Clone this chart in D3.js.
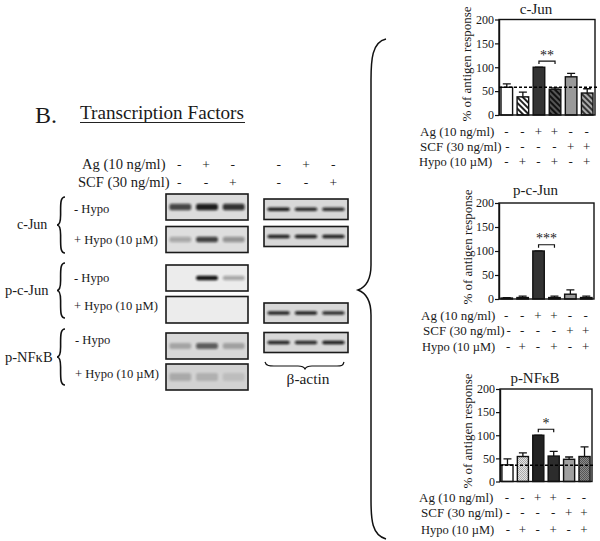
<!DOCTYPE html>
<html><head><meta charset="utf-8">
<script src="https://cdn.jsdelivr.net/npm/d3@7/dist/d3.min.js"></script>
<style>html,body{margin:0;background:#fff}svg{display:block}text{font-family:"Liberation Serif",serif;fill:#1a1a1a}</style>
</head><body><svg id="c" width="600" height="541"></svg>
<script>
// ---------- data ----------
const panelTitles = ["c-Jun", "p-c-Jun", "p-NF\u03BAB"];
const cJunValues = [58, 38, 100, 54, 80, 46];
const cJunErrors = [7, 10, 0, 3, 7, 9];
const pcJunValues = [2, 3, 100, 3, 10, 3];
const pcJunErrors = [1, 3, 0, 3, 9, 3];
const pNFkBValues = [36, 54, 100, 55, 48, 54];
const pNFkBErrors = [13, 8, 0, 10, 5, 21];
const baselines = [58, null, 35];
const sigLabels = ["**", "***", "*"];
const yTicks = [0, 50, 100, 150, 200];
const treatmentNames = ["Ag (10 ng/ml)", "SCF (30 ng/ml)", "Hypo (10 \u00B5M)"];
const agSigns = ["-", "-", "+", "+", "-", "-"];
const scfSigns = ["-", "-", "-", "-", "+", "+"];
const hypoSigns = ["-", "+", "-", "+", "-", "+"];
const blotAg = ["-", "+", "-"];
const blotScf = ["-", "-", "+"];
const lanes = [0, 1, 2];
const cJunMinus = [0.72, 0.92, 0.82];
const cJunPlus = [0.25, 0.75, 0.35];
const pcJunMinus = [0, 0.98, 0.3];
const pcJunPlus = [0, 0, 0];
const pNFkBMinus = [0.25, 0.6, 0.27];
const pNFkBPlus = [0.2, 0.17, 0.1];
const actin1 = [0.95, 0.88, 0.85];
const actin2 = [0.92, 0.92, 0.92];
const actin3 = [0.9, 0.92, 0.85];
const actin4 = [0.9, 0.88, 0.95];

// ---------- layout ----------
const svg = d3.select("#c");
const defs = svg.append("defs");
defs.append("filter").attr("id", "soft").attr("x", "-20%").attr("y", "-100%").attr("width", "140%").attr("height", "300%")
  .append("feGaussianBlur").attr("stdDeviation", "1.1 0.9");

function hatch(id, bg, fg, angle, w) {
  const p = defs.append("pattern").attr("id", id).attr("patternUnits", "userSpaceOnUse")
    .attr("width", 4).attr("height", 4).attr("patternTransform", `rotate(${angle})`);
  p.append("rect").attr("width", 4).attr("height", 4).attr("fill", bg);
  p.append("rect").attr("width", w).attr("height", 4).attr("fill", fg);
}
function stipple(id, bg, fg) {
  const p = defs.append("pattern").attr("id", id).attr("patternUnits", "userSpaceOnUse").attr("width", 2).attr("height", 2);
  p.append("rect").attr("width", 2).attr("height", 2).attr("fill", bg);
  p.append("rect").attr("width", 1).attr("height", 1).attr("fill", fg);
  p.append("rect").attr("x", 1).attr("y", 1).attr("width", 1).attr("height", 1).attr("fill", fg);
}
hatch("hw", "#fff", "#222", -45, 2);
hatch("hd", "#555", "#111", -45, 2);
hatch("hg", "#aaa", "#333", -45, 2);
stipple("dots", "#e4e4e4", "#aaa");
stipple("dotg", "#8a8a8a", "#555");

const fills = [
  ["#fff", "url(#hw)", "#333", "url(#hd)", "#999", "url(#hg)"],
  ["#fff", "#444", "#333", "#444", "#999", "#555"],
  ["#fff", "url(#dots)", "#222", "#2c2c2c", "#a0a0a0", "url(#dotg)"]
];

const panels = [
  {x0: 499, x1: 595, yTop: 19.5, yBot: 115, vals: cJunValues, errs: cJunErrors, titleX: 536, titleY: 13.5, ylabX: 470.5, ylabY: 64,
   rows: [132, 147, 162], labX: [420, 420, 419], signShift: [0, 1, 0]},
  {x0: 499, x1: 594, yTop: 203, yBot: 299, vals: pcJunValues, errs: pcJunErrors, titleX: 535.5, titleY: 195, ylabX: 471.5, ylabY: 247,
   rows: [316, 331, 347], labX: [421, 423, 422], signShift: [0, 2.5, 2]},
  {x0: 500, x1: 592, yTop: 389, yBot: 481.5, vals: pNFkBValues, errs: pNFkBErrors, titleX: 535, titleY: 383, ylabX: 472, ylabY: 431,
   rows: [498, 513, 530], labX: [419, 421, 421], signShift: [0, 1, 1]}
];
const signRows = [agSigns, scfSigns, hypoSigns];
const rowFont = [13, 13, 12.5];

panels.forEach((p, i) => {
  const g = svg.append("g");
  const x = d3.scaleBand().domain(d3.range(6)).range([p.x0, p.x1]).paddingInner(0.28).paddingOuter(0.125);
  const y = d3.scaleLinear().domain([0, 200]).range([p.yBot, p.yTop]);
  const c = i2 => x(i2) + x.bandwidth() / 2;

  // error bars
  g.selectAll(".err").data(p.vals).join("path")
    .attr("d", (v, k) => {
      const t = y(v + p.errs[k]);
      return `M${c(k)},${y(v)}V${t}M${c(k) - 4},${t}H${c(k) + 4}`;
    }).attr("stroke", "#111").attr("stroke-width", 1.3).attr("fill", "none");
  // bars
  g.selectAll(".bar").data(p.vals).join("rect")
    .attr("x", (v, k) => x(k)).attr("width", x.bandwidth())
    .attr("y", v => y(v)).attr("height", v => y(0) - y(v))
    .attr("fill", (v, k) => fills[i][k]).attr("stroke", "#111").attr("stroke-width", 1.4);
  // frame
  g.append("rect").attr("x", p.x0).attr("y", p.yTop).attr("width", p.x1 - p.x0).attr("height", p.yBot - p.yTop)
    .attr("fill", "none").attr("stroke", "#111").attr("stroke-width", 1.4);
  // axis
  const ax = g.append("g").attr("transform", `translate(${p.x0},0)`)
    .call(d3.axisLeft(y).tickValues(yTicks).tickSize(4).tickPadding(1).tickSizeOuter(0));
  ax.select(".domain").attr("stroke", "#111").attr("stroke-width", 1.4);
  ax.selectAll("line").attr("stroke", "#111").attr("stroke-width", 1.2);
  ax.selectAll("text").style("font-family", '"Liberation Serif",serif').style("font-size", "12px").attr("fill", "#1a1a1a");
  // baseline
  if (baselines[i] !== null) {
    g.append("line").attr("x1", p.x0).attr("x2", p.x1 + 2).attr("y1", y(baselines[i])).attr("y2", y(baselines[i]))
      .attr("stroke", "#000").attr("stroke-width", 1.4).attr("stroke-dasharray", "3,2");
  }
  // significance
  const by = y(113);
  g.append("path").attr("d", `M${c(2)},${by + 3}V${by}H${c(3)}V${by + 3}`).attr("fill", "none").attr("stroke", "#111").attr("stroke-width", 1.2);
  g.append("text").attr("x", (c(2) + c(3)) / 2).attr("y", by - 1.4).attr("text-anchor", "middle")
    .attr("font-size", 14).text(sigLabels[i]);
  // title
  g.append("text").attr("x", p.titleX).attr("y", p.titleY).attr("text-anchor", "middle").attr("font-size", 15).text(panelTitles[i]);
  // y label
  g.append("text").attr("transform", `translate(${p.ylabX},${p.ylabY}) rotate(-90)`).attr("text-anchor", "middle")
    .attr("font-size", 13).text("% of antigen response");
  // treatments
  treatmentNames.forEach((n, r) => {
    g.append("text").attr("x", p.labX[r]).attr("y", p.rows[r] + 4).attr("font-size", rowFont[r]).text(n);
    g.selectAll(null).data(signRows[r]).join("text")
      .attr("x", (s, k) => c(k) - 0.5 + (k === 0 ? p.signShift[r] : 0)).attr("y", p.rows[r] + 4).attr("text-anchor", "middle")
      .attr("font-size", 13).text(s => s);
  });
});

// ---------- blots ----------
const leftX = d3.scaleBand().domain(lanes).range([166, 248]).padding(0.07);
const rightX = d3.scaleBand().domain(lanes).range([264, 348]).padding(0.07);
function blot(xs, y0, y1, bands, bg, thick) {
  const x0 = xs.range()[0], x1 = xs.range()[1];
  svg.append("rect").attr("x", x0).attr("y", y0).attr("width", x1 - x0).attr("height", y1 - y0)
    .attr("fill", bg).attr("stroke", "#1a1a1a").attr("stroke-width", 1.6);
  svg.selectAll(null).data(bands).join("rect")
    .attr("x", (v, k) => xs(k) + 1.5).attr("width", xs.bandwidth() - 3)
    .attr("y", (y0 + y1) / 2 - thick / 2).attr("height", thick).attr("rx", 2)
    .attr("fill", "#111").attr("opacity", v => v).attr("filter", "url(#soft)");
}
blot(leftX, 194, 220, cJunMinus, "#dcdcdc", 6.5);
blot(leftX, 226.5, 252.5, cJunPlus, "#dedede", 5.5);
blot(leftX, 265, 291, pcJunMinus, "#ececec", 4.5);
blot(leftX, 296.5, 323, pcJunPlus, "#ececec", 4);
blot(leftX, 333, 359, pNFkBMinus, "#d8d8d8", 6);
blot(leftX, 364, 390, pNFkBPlus, "#d2d2d2", 8);
blot(rightX, 199, 219.5, actin1, "#d8d8d8", 3.5);
blot(rightX, 226.5, 246.5, actin2, "#d8d8d8", 3.5);
blot(rightX, 303, 323, actin3, "#d8d8d8", 3.5);
blot(rightX, 332.5, 352.5, actin4, "#d8d8d8", 3.5);

// ---------- blot labels ----------
function txt(x, y, s, size, anchor) {
  return svg.append("text").attr("x", x).attr("y", y).attr("font-size", size).attr("text-anchor", anchor || "start").text(s);
}
txt(35, 123, "B.", 24);
txt(80, 119, "Transcription Factors", 19.2);
svg.append("line").attr("x1", 80).attr("x2", 245).attr("y1", 122.5).attr("y2", 122.5).attr("stroke", "#222").attr("stroke-width", 1);
txt(82, 169, treatmentNames[0], 14.6);
txt(78, 186.7, treatmentNames[1], 14.6);
[blotAg, blotScf].forEach((row, r) => {
  const y = r ? 186.7 : 168.5;
  svg.selectAll(null).data(row).join("text")
    .attr("x", (s, k) => leftX(k) + leftX.bandwidth() / 2 - 1).attr("y", y).attr("text-anchor", "middle").attr("font-size", 13.5).text(s => s);
  svg.selectAll(null).data(row).join("text")
    .attr("x", (s, k) => rightX(k) + rightX.bandwidth() / 2).attr("y", y).attr("text-anchor", "middle").attr("font-size", 13.5).text(s => s);
});
txt(17, 229, "c-Jun", 14);
txt(5, 295, "p-c-Jun", 14.5);
txt(5, 361.7, "p-NF\u03BAB", 14.5);
[[74, 213], [74, 244], [74, 281.7], [74, 310], [75, 344], [75, 377.7]].forEach((q, k) => {
  txt(q[0], q[1], k % 2 ? "+ Hypo (10 \u00B5M)" : "- Hypo", 12.6);
});
txt(308, 384, "\u03B2-actin", 15.4, "middle");

// ---------- braces ----------
function vBrace(x, y0, y1, d) {
  const m = (y0 + y1) / 2, q = d * 0.45;
  return `M${x + d},${y0}C${x + q},${y0} ${x + q},${y0 + 6} ${x + q},${y0 + 14}V${m - 10}C${x + q},${m - 3} ${x + q * 0.5},${m} ${x},${m}` +
    `C${x + q * 0.5},${m} ${x + q},${m + 3} ${x + q},${m + 10}V${y1 - 14}C${x + q},${y1 - 6} ${x + q},${y1} ${x + d},${y1}`;
}
[[57, 197, 253], [57, 263, 318], [57, 329, 385]].forEach(b => {
  svg.append("path").attr("d", vBrace(b[0], b[1], b[2], 8)).attr("fill", "none").attr("stroke", "#111").attr("stroke-width", 1.6);
});
svg.append("path").attr("d", "M386,39C372,42 371,60 371,80V265C371,280 366,287 358,290C366,293 371,300 371,315V500C371,520 372,535 386,539")
  .attr("fill", "none").attr("stroke", "#111").attr("stroke-width", 1.5);
svg.append("path").attr("d", "M265,362C266,366 270,366 274,366H298C302,366 304,367 305,369C306,367 308,366 312,366H337C341,366 343,366 344,362")
  .attr("fill", "none").attr("stroke", "#111").attr("stroke-width", 1.2);
</script></body></html>
